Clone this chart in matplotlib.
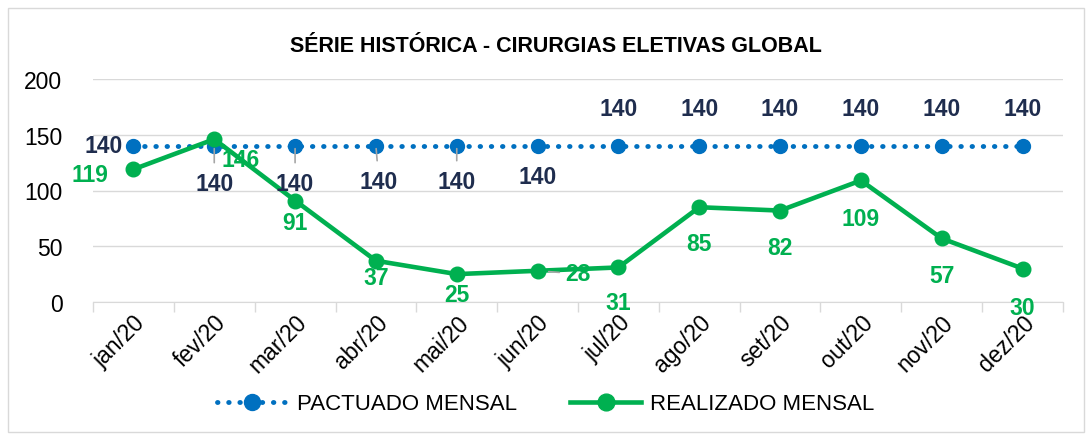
import matplotlib
matplotlib.use("Agg")
import matplotlib.pyplot as plt
import numpy as np
from matplotlib.patches import Rectangle

months = ["jan/20", "fev/20", "mar/20", "abr/20", "mai/20", "jun/20",
          "jul/20", "ago/20", "set/20", "out/20", "nov/20", "dez/20"]
pactuado = [140, 140, 140, 140, 140, 140, 140, 140, 140, 140, 140, 140]
realizado = [119, 146, 91, 37, 25, 28, 31, 85, 82, 109, 57, 30]

title = "SÉRIE HISTÓRICA - CIRURGIAS ELETIVAS GLOBAL"
yticks = [0, 50, 100, 150, 200]

plt.rcParams['font.family'] = ['Liberation Sans', 'DejaVu Sans']

BLUE = "#0070C0"
GREEN = "#00B050"
NAVY = "#1F2D4E"
GRID = "#D9D9D9"

fig = plt.figure(figsize=(10.91, 4.39), dpi=100)
fig.patches.append(Rectangle((8/1091, 1-433/439), 1076/1091, 424/439,
                             transform=fig.transFigure, fill=False,
                             edgecolor=GRID, linewidth=1))
ax = fig.add_axes([93/1091, 1-303/439, 970/1091, 223/439])

x = np.arange(len(months))
ax.plot(x, pactuado, color=BLUE, linewidth=3.5, linestyle=(0, (0.1, 2.2)),
        dash_capstyle='round', marker='o', markersize=10, zorder=3,
        label="PACTUADO MENSAL")
ax.plot(x, realizado, color=GREEN, linewidth=3.3, marker='o', markersize=10.5,
        zorder=4, label="REALIZADO MENSAL")

ax.set_xlim(-0.5, len(months) - 0.5)
ax.set_ylim(0, 200)
ax.set_yticks(yticks)
ax.set_xticks(x)
ax.set_xticklabels(months, rotation=45, ha='right', rotation_mode='anchor',
                   fontsize=16.5)
ax.set_xticks(np.arange(-0.5, len(months), 1), minor=True)
ax.tick_params(axis='x', which='major', length=0, pad=6)
ax.tick_params(axis='x', which='minor', length=7, color=GRID, width=1)
ax.tick_params(axis='y', length=0, pad=22, labelsize=16.5)
ax.grid(axis='y', color=GRID, linewidth=1)
ax.set_axisbelow(True)
for s in ['top', 'right', 'left']:
    ax.spines[s].set_visible(False)
ax.spines['bottom'].set_color(GRID)

fig.text(556/1091, 1-47/439, title, ha='center', va='center',
         fontsize=15.5, fontweight='bold')

# data labels (offsets in pixels)
p_off = [(-30, 0), (0, -38), (0, -38), (3, -36), (0, -36), (0, -31),
         (0, 37), (0, 37), (0, 37), (0, 37), (0, 37), (0, 37)]
p_lead = [False, True, True, True, True, False,
          False, False, False, False, False, False]
for i, (v, off, lead) in enumerate(zip(pactuado, p_off, p_lead)):
    kw = {}
    if lead:
        kw['arrowprops'] = dict(arrowstyle='-', color='#A6A6A6', lw=1.2,
                                shrinkA=5, shrinkB=2)
    ax.annotate(str(v), (i, v), xytext=off, textcoords='offset pixels',
                ha='center', va='center', fontsize=16.5, fontweight='bold',
                color=NAVY, zorder=5, **kw)

r_off = [(-43, -5), (26, -20), (0, -22), (0, -17), (0, -20), (40, -3),
         (0, -35), (0, -36), (0, -37), (0, -38), (0, -37), (0, -39)]
for i, (v, off) in enumerate(zip(realizado, r_off)):
    kw = {}
    if i == 5:
        kw['arrowprops'] = dict(arrowstyle='-', color='#A6A6A6', lw=1.2,
                                shrinkA=2, shrinkB=8)
    ax.annotate(str(v), (i, v), xytext=off, textcoords='offset pixels',
                ha='center', va='center', fontsize=16.5, fontweight='bold',
                color=GREEN, zorder=5, **kw)

leg = fig.legend(loc='center', bbox_to_anchor=(0.5, 1-405/439), ncol=2,
                 frameon=False, fontsize=16, handlelength=3.2,
                 handletextpad=0.4, columnspacing=2.4, markerscale=1.15)

fig.savefig("out.png", dpi=100)
